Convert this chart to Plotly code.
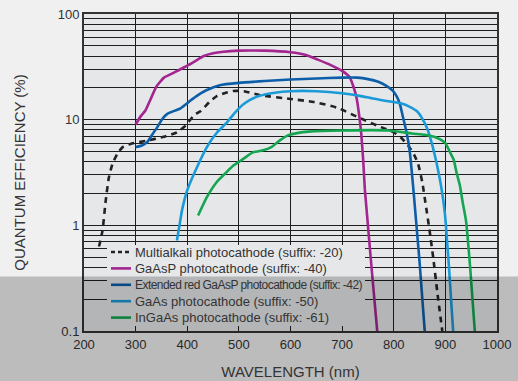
import plotly.graph_objects as go

# Spectral response of photocathodes: wavelength (nm) vs quantum efficiency (%)
multialkali_nm = [229, 232, 236, 242, 248, 255, 265, 275, 290, 320, 355, 380, 397, 413, 426,
                  445, 458, 475, 490, 510, 540, 600, 645, 690, 730, 775, 800, 815, 830, 840,
                  847, 855, 863, 870, 877, 885, 894]
multialkali_qe = [0.63, 0.72, 0.9, 1.7, 2.8, 3.8, 4.8, 5.5, 5.9, 6.3, 6.9, 7.6, 8.8, 11.0, 12.1,
                  15.0, 16.8, 18.0, 18.7, 18.6, 17.1, 15.7, 14.7, 13.0, 10.6, 8.5, 7.6, 6.7, 5.5, 4.6,
                  3.85, 2.6, 1.45, 0.85, 0.47, 0.22, 0.1]

gaasp_nm = [300, 310, 319, 330, 340, 355, 375, 395, 410, 432, 450, 470, 500, 550, 600,
            630, 653, 680, 700, 714, 722, 728, 733, 737, 741, 744, 748, 758, 768]
gaasp_qe = [9.0, 10.8, 12.2, 16.0, 20.5, 25.0, 28.0, 31.5, 34.5, 40.0, 42.5, 44.0, 45.0, 45.0, 43.5,
            41.0, 37.0, 32.5, 29.0, 25.5, 20.5, 16.0, 11.0, 7.4, 4.0, 2.2, 1.3, 0.35, 0.1]

ext_red_nm = [300, 312, 322, 332, 342, 352, 362, 387, 405, 420, 437, 463, 500, 550, 600,
              650, 700, 730, 750, 770, 785, 798, 806, 812, 818, 825, 831, 837, 842, 850, 860]
ext_red_qe = [5.5, 5.7, 6.1, 7.2, 8.5, 10.2, 11.4, 12.8, 15.0, 17.0, 19.0, 21.2, 22.3, 23.2, 24.0,
              24.5, 25.0, 25.0, 24.2, 22.8, 21.0, 18.8, 16.5, 14.0, 10.5, 7.5, 5.0, 2.5, 1.3, 0.45, 0.1]

gaas_nm = [380, 385, 390, 400, 416, 438, 458, 475, 490, 505, 520, 540, 570, 600, 650,
           700, 734, 756, 780, 800, 815, 830, 845, 855, 865, 872, 880, 886, 892, 899, 907, 915]
gaas_qe = [0.72, 1.0, 1.4, 2.15, 3.3, 5.5, 7.6, 9.2, 11.3, 13.5, 15.2, 16.8, 18.0, 18.6, 18.6,
           17.8, 16.8, 16.0, 15.2, 14.7, 14.2, 13.3, 12.0, 10.3, 8.2, 6.4, 4.5, 3.3, 2.3, 1.3, 0.4, 0.1]

ingaas_nm = [421, 438, 458, 475, 490, 510, 527, 545, 563, 580, 595, 615, 635, 700, 790,
             835, 860, 878, 890, 900, 910, 916, 922, 928, 934, 940, 948, 957]
ingaas_qe = [1.24, 1.85, 2.6, 3.15, 3.7, 4.3, 4.9, 5.1, 5.5, 6.4, 7.1, 7.5, 7.7, 7.9, 7.9,
             7.4, 7.2, 6.9, 6.5, 6.0, 4.8, 4.2, 3.1, 2.4, 1.6, 1.1, 0.4, 0.1]

series_names = [
    "Multialkali photocathode (suffix: -20)",
    "GaAsP photocathode (suffix: -40)",
    "Extended red GaAsP photocathode (suffix: -42)",
    "GaAs photocathode (suffix: -50)",
    "InGaAs photocathode (suffix: -61)",
]
series_x = [multialkali_nm, gaasp_nm, ext_red_nm, gaas_nm, ingaas_nm]
series_y = [multialkali_qe, gaasp_qe, ext_red_qe, gaas_qe, ingaas_qe]
series_colors = ["#222222", "#a3258f", "#0d5ea8", "#1b9ad8", "#14a550"]
series_dash = ["6px,5px", "solid", "solid", "solid", "solid"]

x_ticks = [200, 300, 400, 500, 600, 700, 800, 900, 1000]
y_ticks = [0.1, 1, 10, 100]
y_tick_text = ["0.1", "1", "10", "100"]

FONT = "Liberation Sans, Arial, Helvetica, sans-serif"
PAGE_BG = "#f0f0f0"
PLOT_BG = "#e6e7e9"
GRID = "#1e1e1e"
TEXT = "#333333"

W, H = 518, 381
M_L, M_R, M_T, M_B = 84, 21, 14, 50
PW, PH = W - M_L - M_R, H - M_T - M_B


def xp(px):
    return (px - M_L) / PW


def yp(py):
    return (H - M_B - py) / PH


fig = go.Figure()
for name, xs, ys, col, dash in zip(series_names, series_x, series_y, series_colors, series_dash):
    fig.add_trace(go.Scatter(
        x=xs, y=ys, name=name, mode="lines", showlegend=False,
        line=dict(color=col, width=2.6, dash=dash, shape="spline", smoothing=0.5),
    ))

shapes = []
annotations = []

# key box painted over the grid (no curve crosses this region)
shapes.append(dict(type="rect", xref="paper", yref="paper", layer="above",
                   x0=xp(107), x1=xp(365), y0=yp(326), y1=yp(245),
                   fillcolor=PLOT_BG, line=dict(width=0)))

# key entries
for i, (name, col, dash) in enumerate(zip(series_names, series_colors, series_dash)):
    row_y = 252 + i * 16.4
    shapes.append(dict(type="line", xref="paper", yref="paper", layer="above",
                       x0=xp(111), x1=xp(131), y0=yp(row_y), y1=yp(row_y),
                       line=dict(color=col, width=2.6,
                                 dash="4px,3px" if dash != "solid" else "solid")))
    if "Extended" in name:
        label = '<span style="letter-spacing:-0.55px">' + name + "</span>"
        size = 12
    else:
        label = name
        size = 13
    annotations.append(dict(
        xref="paper", yref="paper", x=xp(133), y=yp(row_y), xanchor="left", yanchor="middle",
        text=label, showarrow=False,
        font=dict(family=FONT, size=size, color=TEXT),
    ))

# grey band across the lower part of the page
shapes.append(dict(type="rect", xref="paper", yref="paper", layer="above",
                   x0=xp(0), x1=xp(W), y0=yp(H), y1=yp(276.5),
                   fillcolor="rgba(0,0,0,0.215)", line=dict(width=0)))

fig.update_layout(
    width=W, height=H,
    margin=dict(l=M_L, r=M_R, t=M_T, b=M_B, autoexpand=False),
    paper_bgcolor=PAGE_BG, plot_bgcolor=PLOT_BG,
    font=dict(family=FONT, color=TEXT, size=13),
    shapes=shapes, annotations=annotations,
    xaxis=dict(
        range=[200, 1000], tickvals=x_ticks, ticks="", showgrid=True,
        gridcolor=GRID, gridwidth=1, zeroline=False, automargin=False,
        showline=True, mirror=True, linecolor=TEXT, linewidth=2,
        tickfont=dict(size=13, color=TEXT),
        title=dict(text="WAVELENGTH (nm)", font=dict(size=15, color=TEXT), standoff=16),
    ),
    yaxis=dict(
        type="log", range=[-1, 2], tickvals=y_ticks, ticktext=y_tick_text, ticks="",
        showgrid=True, gridcolor=GRID, gridwidth=1, zeroline=False, automargin=False,
        showline=True, mirror=True, linecolor=TEXT, linewidth=2,
        tickfont=dict(size=13, color=TEXT),
        minor=dict(dtick="D1", showgrid=True, gridcolor=GRID, gridwidth=1, ticks=""),
        title=dict(text="QUANTUM EFFICIENCY (%)", font=dict(size=15, color=TEXT), standoff=28),
    ),
)

fig.write_html("out.html")
